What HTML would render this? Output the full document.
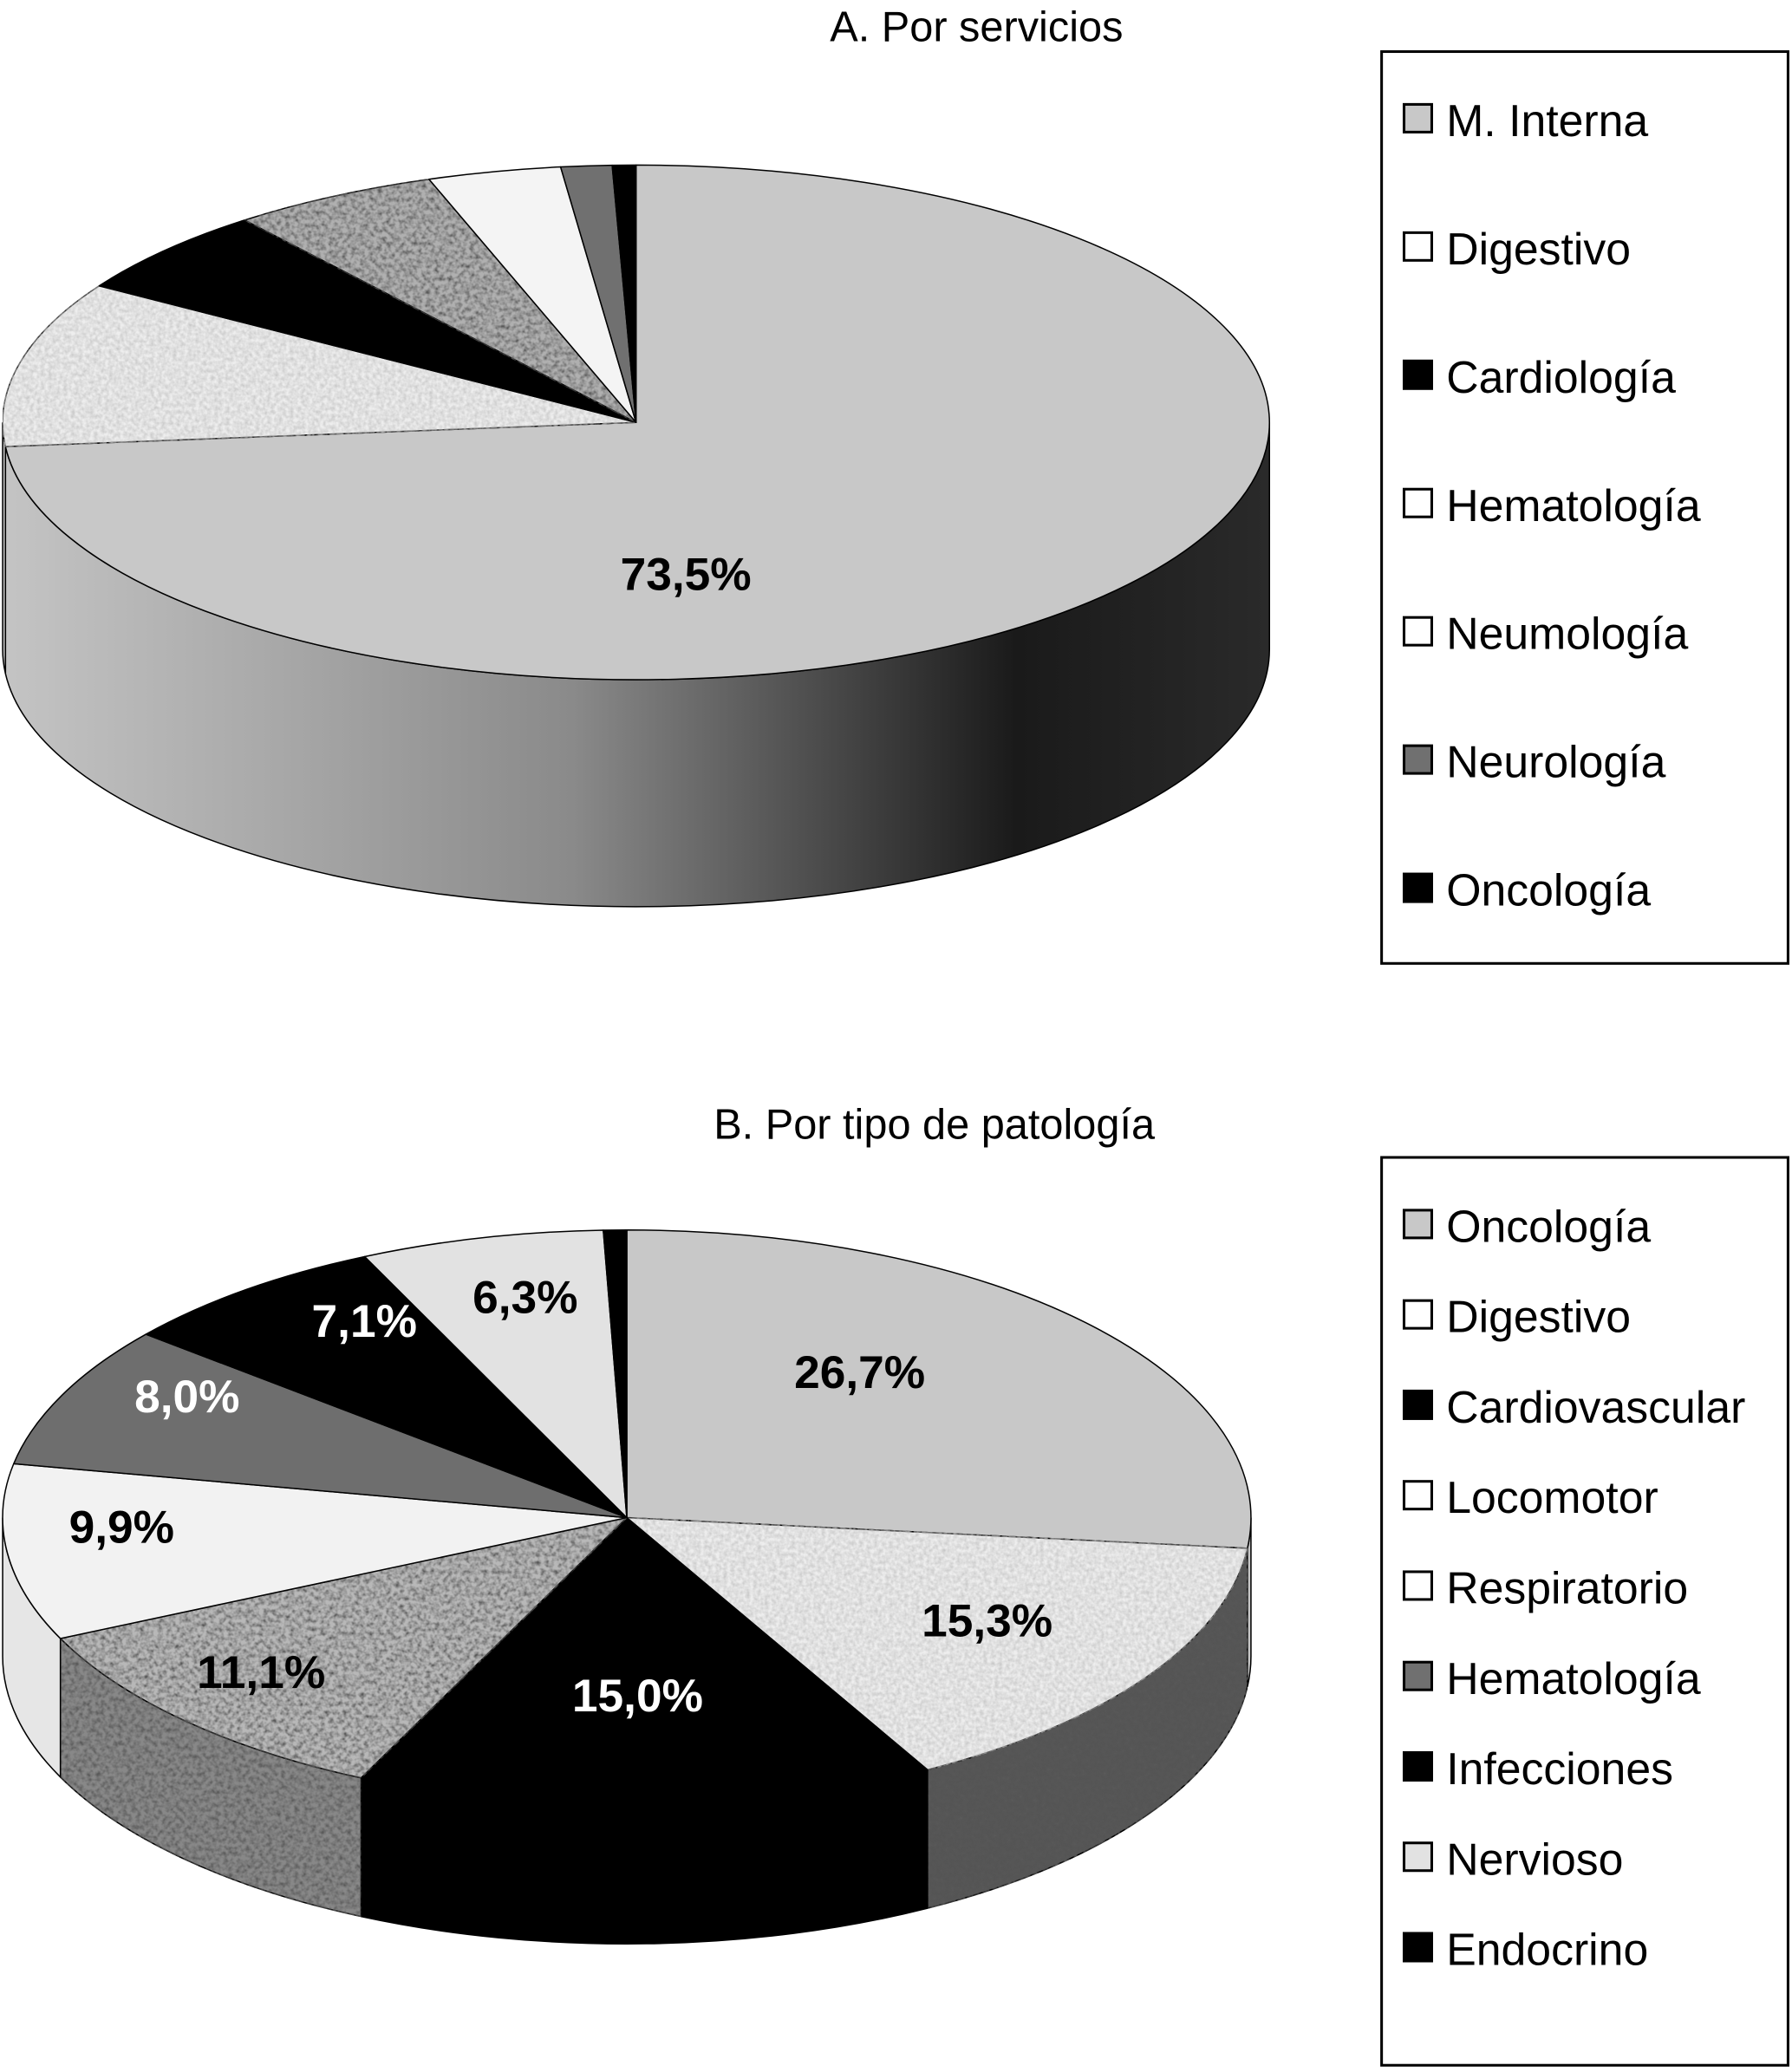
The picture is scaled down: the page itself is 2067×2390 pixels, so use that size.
<!DOCTYPE html>
<html><head><meta charset="utf-8"><style>
html,body{margin:0;padding:0;background:#fff;}
svg{display:block;font-family:"Liberation Sans",Arial,sans-serif;}
</style></head><body>
<svg id="chart" width="2067" height="2390" viewBox="0 0 1358 1570" xmlns="http://www.w3.org/2000/svg">
<defs>
<linearGradient id="sideA" gradientUnits="userSpaceOnUse" x1="2" y1="0" x2="962" y2="0">
<stop offset="0" stop-color="#c4c4c4"/><stop offset="0.45" stop-color="#8a8a8a"/><stop offset="0.8" stop-color="#1a1a1a"/><stop offset="1" stop-color="#2a2a2a"/>
</linearGradient>
<filter id="noiseLight" x="0" y="0" width="100%" height="100%">
<feTurbulence type="fractalNoise" baseFrequency="0.35" numOctaves="2" seed="3" result="t"/>
<feColorMatrix in="t" type="matrix" values="0 0 0 0 0.5  0 0 0 0 0.5  0 0 0 0 0.5  -1.2 0 0 0 0.9" result="n"/>
<feComposite in="n" in2="SourceGraphic" operator="in" result="c"/>
<feMerge><feMergeNode in="SourceGraphic"/><feMergeNode in="c"/></feMerge>
</filter>
<filter id="noiseDark" x="0" y="0" width="100%" height="100%">
<feTurbulence type="fractalNoise" baseFrequency="0.3" numOctaves="2" seed="7" result="t"/>
<feColorMatrix in="t" type="matrix" values="0 0 0 0 0.1  0 0 0 0 0.1  0 0 0 0 0.1  -2 0 0 0 1.3" result="n"/>
<feComposite in="n" in2="SourceGraphic" operator="in" result="c"/>
<feMerge><feMergeNode in="SourceGraphic"/><feMergeNode in="c"/></feMerge>
</filter>
</defs>
<text x="740" y="31" font-size="32" text-anchor="middle">A. Por servicios</text>
<text x="708" y="863" font-size="32" text-anchor="middle">B. Por tipo de patología</text>
<g id="pieA"></g>
<g id="pieB"></g>
<g id="legA"></g>
<g id="legB"></g>
</svg>
<script>
var catsA = ["M. Interna","Digestivo","Cardiología","Hematología","Neumología","Neurología","Oncología"];
var valsA = [73.5,10.4,5.5,5.3,3.4,1.3,0.6];
var labelsA = ["73,5%","","","","","",""];
var catsB = ["Oncología","Digestivo","Cardiovascular","Locomotor","Respiratorio","Hematología","Infecciones","Nervioso","Endocrino"];
var valsB = [26.7,15.3,15.0,11.1,9.9,8.0,7.1,6.3,0.6];
var labelsB = ["26,7%","15,3%","15,0%","11,1%","9,9%","8,0%","7,1%","6,3%",""];

var NS="http://www.w3.org/2000/svg";
function mk(tag,attrs,parent){var e=document.createElementNS(NS,tag);for(var k in attrs)e.setAttribute(k,attrs[k]);parent.appendChild(e);return e;}

var stylesA=[{f:"#c8c8c8"},{f:"#eeeeee",flt:"noiseLight"},{f:"#000"},{f:"#b0b0b0",flt:"noiseDark"},{f:"#f4f4f4"},{f:"#707070"},{f:"#000"}];
var stylesB=[{f:"#c8c8c8"},{f:"#eeeeee",flt:"noiseLight"},{f:"#000"},{f:"#b8b8b8",flt:"noiseDark"},{f:"#f2f2f2"},{f:"#6e6e6e"},{f:"#000"},{f:"#e2e2e2"},{f:"#000"}];
var sideB=[{f:"#c8c8c8"},{f:"#555",flt:"noiseDark"},{f:"#000"},{f:"#888",flt:"noiseDark"},{f:"#e6e6e6"},{f:"#555"},{f:"#000"},{f:"#ddd"},{f:"#000"}];
var labColB=["#000","#000","#fff","#000","#000","#fff","#fff","#000",""];

// label placement: [radial fraction, angle shift in degrees] (layout only)
var labPlaceA=[[0.595,40.1]];
var labPlaceB=[[0.628,-11.6],[0.679,-1.9],[0.619,0.2],[0.795,2.3],[0.81,4.7],[0.821,5.7],[0.802,6.0],[0.783,1.5],[0,0]];

function drawPie(g,vals,labels,st,sideSt,labCol,cx,cy,rx,ry,depth,sideGrad,place){
  var total=vals.reduce(function(a,b){return a+b;},0);
  function P(t,dy){var r=t*Math.PI/180;return [cx+rx*Math.sin(r),cy-ry*Math.cos(r)+(dy||0)];}
  var angs=[0];vals.forEach(function(v,i){angs.push(angs[i]+v/total*360);});
  for(var i=0;i<vals.length;i++){
    var a1=Math.max(angs[i],90),a2=Math.min(angs[i+1],270);
    if(a2<=a1)continue;
    var p1=P(a1),p2=P(a2),q2=P(a2,depth),q1=P(a1,depth);
    var d="M"+p1+" A"+rx+" "+ry+" 0 0 1 "+p2+" L"+q2+" A"+rx+" "+ry+" 0 0 0 "+q1+" Z";
    var s=sideSt?sideSt[i]:null;
    var e=mk("path",{d:d,fill:sideGrad?"url(#"+sideGrad+")":s.f,stroke:"#000","stroke-width":1},g);
    if(s&&s.flt)e.setAttribute("filter","url(#"+s.flt+")");
    
    
  }
  for(var i=0;i<vals.length;i++){
    var p1=P(angs[i]),p2=P(angs[i+1]);var large=(angs[i+1]-angs[i])>180?1:0;
    var d="M"+cx+","+cy+" L"+p1+" A"+rx+" "+ry+" 0 "+large+" 1 "+p2+" Z";
    var e=mk("path",{d:d,fill:st[i].f,stroke:"#000","stroke-width":1,"stroke-linejoin":"round"},g);
    if(st[i].flt)e.setAttribute("filter","url(#"+st[i].flt+")");
    
    
  }
  for(var i=0;i<vals.length;i++){
    if(!labels[i])continue;
    var m=(angs[i]+angs[i+1])/2+place[i][1],f=place[i][0];
    var x=cx+rx*f*Math.sin(m*Math.PI/180),y=cy-ry*f*Math.cos(m*Math.PI/180)+12;
    var t=mk("text",{x:x,y:y,"font-size":35,"font-weight":"bold","text-anchor":"middle",fill:labCol?labCol[i]:"#000"},g);
    t.textContent=labels[i];
    
    
  }
}
drawPie(document.getElementById("pieA"),valsA,labelsA,stylesA,null,null,482,320,480,195,172,"sideA",labPlaceA);
drawPie(document.getElementById("pieB"),valsB,labelsB,stylesB,sideB,labColB,475,1150,473,218,105,null,labPlaceB);

function legend(g,cats,st,x,y,w,h,y0,step){
  mk("rect",{x:x,y:y,width:w,height:h,fill:"#fff",stroke:"#000","stroke-width":2},g);
  cats.forEach(function(c,i){
    var cy=y0+i*step;
    var r=mk("rect",{x:1064,y:cy-12,width:21,height:21,fill:st[i].f,stroke:"#000","stroke-width":2},g);
    
    
    var t=mk("text",{x:1096,y:cy+12,"font-size":34},g);
    t.textContent=c;
    
    
  });
}
var legStA=[{f:"#c8c8c8"},{f:"#fff"},{f:"#000"},{f:"#fff"},{f:"#fff"},{f:"#707070"},{f:"#000"}];
var legStB=[{f:"#c8c8c8"},{f:"#fff"},{f:"#000"},{f:"#fff"},{f:"#fff"},{f:"#707070"},{f:"#000"},{f:"#e2e2e2"},{f:"#000"}];
legend(document.getElementById("legA"),catsA,legStA,1047,39,308,691,91,97.2);
legend(document.getElementById("legB"),catsB,legStB,1047,877,308,688,929,68.5);
</script>
</body></html>
